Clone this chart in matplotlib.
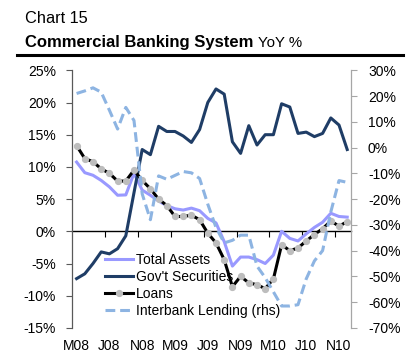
import matplotlib
matplotlib.use("Agg")
import matplotlib.pyplot as plt
from matplotlib.lines import Line2D
from matplotlib.ticker import FuncFormatter

# ---- data (monthly, Mar-08 .. Dec-10) ----
months = ["Mar-08", "Apr-08", "May-08", "Jun-08", "Jul-08", "Aug-08", "Sep-08", "Oct-08",
          "Nov-08", "Dec-08", "Jan-09", "Feb-09", "Mar-09", "Apr-09", "May-09", "Jun-09",
          "Jul-09", "Aug-09", "Sep-09", "Oct-09", "Nov-09", "Dec-09", "Jan-10", "Feb-10",
          "Mar-10", "Apr-10", "May-10", "Jun-10", "Jul-10", "Aug-10", "Sep-10", "Oct-10",
          "Nov-10", "Dec-10"]
tick_labels = ["M08", "J08", "N08", "M09", "J09", "N09", "M10", "J10", "N10"]

total_assets = [10.75, 9.1, 8.7, 7.9, 6.9, 5.6, 5.65, 9.0, 6.4, 5.6, 4.7, 4.0, 3.5, 3.3,
                3.6, 3.2, 2.0, 1.3, -1.6, -5.4, -4.0, -4.0, -4.4, -5.0, -3.7, 0.0, -1.1,
                -1.5, -0.4, 0.6, 1.4, 2.8, 2.3, 2.2]
gov_securities = [-7.35, -6.6, -5.0, -3.2, -3.5, -2.7, -0.7, 6.0, 12.7, 11.9, 16.3, 15.5,
                  15.5, 14.8, 13.8, 15.8, 20.0, 22.1, 21.3, 13.9, 12.1, 16.4, 13.4, 15.0,
                  15.0, 19.8, 19.3, 15.2, 15.4, 14.7, 15.2, 17.6, 16.5, 12.7]
loans = [13.3, 11.3, 10.8, 9.7, 9.0, 7.8, 7.8, 9.5, 7.9, 6.6, 5.0, 4.0, 2.3, 2.3, 2.5,
         1.8, -0.3, -1.8, -4.4, -8.6, -7.0, -8.0, -8.3, -8.9, -7.4, -2.1, -3.0, -2.6,
         -1.5, -0.5, 0.4, 1.6, 0.8, 1.5]
interbank = [21.0, 22.0, 23.2, 21.5, 14.5, 7.2, 15.6, 10.5, -18.0, -28.0, -11.0, -12.3,
             -10.8, -9.3, -9.8, -12.0, -22.0, -31.0, -37.0, -36.0, -34.0, -34.0, -46.0,
             -50.5, -56.0, -61.5, -61.5, -61.0, -51.0, -44.0, -40.0, -25.0, -12.8, -13.5]

C_TA = "#9999FF"
C_GS = "#1F3D66"
C_LN = "#000000"
C_MK = "#BDBDBD"
C_IB = "#8DB4E2"

plt.rcParams["font.family"] = ["Liberation Sans", "DejaVu Sans"]

W, H = 410, 357
fig = plt.figure(figsize=(W / 100, H / 100), dpi=100)
L, R, T, B = 72.5, 351.3, 70.3, 327.9
ax = fig.add_axes([L / W, 1 - B / H, (R - L) / W, (B - T) / H])
ax2 = ax.twinx()

x = list(range(len(months)))
lw = 2.2
l1, = ax.plot(x, total_assets, color=C_TA, lw=lw, label="Total Assets", zorder=3)
l2, = ax.plot(x, gov_securities, color=C_GS, lw=lw, label="Gov't Securities", zorder=4)
l3, = ax.plot(x, loans, color=C_LN, lw=lw, marker="o", ms=4.2, mfc=C_MK, mec=C_MK,
              label="Loans", zorder=5)
l4, = ax2.plot(x, interbank, color=C_IB, lw=lw, dashes=(3.2, 1.6),
               label="Interbank Lending (rhs)", zorder=3)

ax.set_xlim(-0.5, len(months) - 0.5)
ax.set_ylim(-15, 25)
ax2.set_ylim(-70, 30)
ax.set_yticks(range(-15, 26, 5))
ax2.set_yticks(range(-70, 31, 10))
pct = FuncFormatter(lambda v, p: f"{v:.0f}%")
ax.yaxis.set_major_formatter(pct)
ax2.yaxis.set_major_formatter(pct)

# x labels at bottom, no tick marks
ax.set_xticks(list(range(0, len(months), 4)))
ax.set_xticklabels(tick_labels)
ax.tick_params(axis="x", length=0, pad=8, labelsize=10)
ax.tick_params(axis="y", direction="out", length=4, width=0.8, color="#595959",
               labelsize=10, pad=8)
ax2.tick_params(axis="y", direction="out", length=4, width=0.8, color="#A6A6A6",
                labelsize=10, pad=8)

for a in (ax, ax2):
    a.spines["top"].set_visible(False)
    a.spines["bottom"].set_visible(False)
ax.spines["right"].set_visible(False)
ax2.spines["left"].set_visible(False)
ax.spines["left"].set_color("#595959")
ax.spines["left"].set_linewidth(0.9)
ax2.spines["right"].set_color("#A6A6A6")
ax2.spines["right"].set_linewidth(0.9)

# category axis crossing at 0 with tick marks between categories
sec = ax.secondary_xaxis(15 / 40)
sec.spines["bottom"].set_color("black")
sec.spines["bottom"].set_linewidth(1.0)
sec.set_xticks([k - 0.5 for k in range(4, len(months), 4)])
sec.tick_params(axis="x", direction="out", length=4, width=0.8, color="black",
                labelbottom=False)

leg = ax2.legend(handles=[l1, l2, l3, l4], loc="upper left",
                 bbox_to_anchor=(105 / W, 1 - 253 / H), bbox_transform=fig.transFigure,
                 frameon=False, fontsize=10, handlelength=2.0, handletextpad=0.25,
                 labelspacing=0.22, borderpad=0, borderaxespad=0, numpoints=1)

# titles
fig.text(25 / W, 1 - 23 / H, "Chart 15", fontsize=11.8, va="baseline", ha="left")
t2 = fig.text(25 / W, 1 - 47 / H, "Commercial Banking System", fontsize=12.0,
              fontweight="bold", va="baseline", ha="left")
fig.canvas.draw()
bb = t2.get_window_extent()
fig.text((bb.x1 + 5) / W, 1 - 47 / H, "YoY %", fontsize=10.8, va="baseline", ha="left")
fig.add_artist(Line2D([17 / W, 403 / W], [1 - 55 / H] * 2, color="black", lw=2.2,
                      transform=fig.transFigure))

fig.savefig("out.png", dpi=100)
